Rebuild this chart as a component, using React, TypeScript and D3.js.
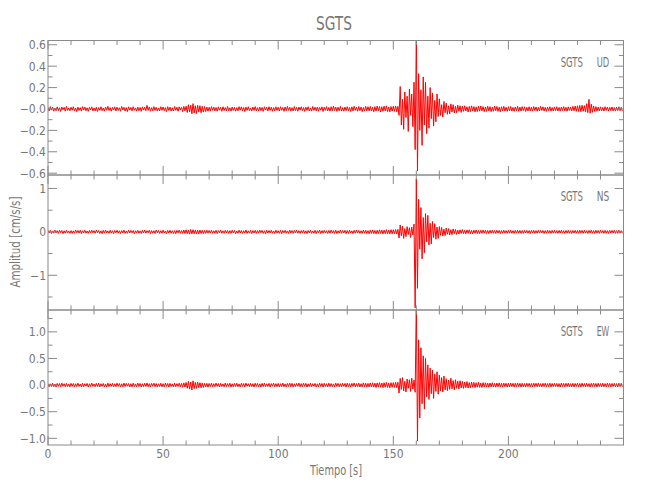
import React from "react";
import * as d3 from "d3";

// ---------- data ----------
const TITLE = "SGTS";
const STATION = "SGTS";
const X_LABEL = "Tiempo  [s]";
const Y_LABEL = "Amplitud  [cm/s/s]";
const SAMPLE_DT = 0.5; // seconds between samples
const components = ["UD", "NS", "EW"];

const xDomain = [0, 250];
const xMajorTicks = [0, 50, 100, 150, 200];
const xMinorTicks = [10, 20, 30, 40, 60, 70, 80, 90, 110, 120, 130, 140, 160, 170, 180, 190, 210, 220, 230, 240, 250];
const xTickLabels = ["0", "50", "100", "150", "200"];

const udDomain = [-0.617, 0.64];
const udMajorTicks = [-0.6, -0.4, -0.2, 0, 0.2, 0.4, 0.6];
const udTickLabels = ["\u22120.6", "\u22120.4", "\u22120.2", "\u22120.0", "0.2", "0.4", "0.6"];
const udMinorTicks = [-0.5, -0.3, -0.1, 0.1, 0.3, 0.5];

const nsDomain = [-1.8, 1.31];
const nsMajorTicks = [-1, 0, 1];
const nsTickLabels = ["\u22121", "0", "1"];
const nsMinorTicks = [-1.5, -0.5, 0.5];

const ewDomain = [-1.125, 1.41];
const ewMajorTicks = [-1, -0.5, 0, 0.5, 1];
const ewTickLabels = ["\u22121.0", "\u22120.5", "0.0", "0.5", "1.0"];
const ewMinorTicks = [-0.75, -0.25, 0.25, 0.75, 1.25];

// acceleration samples, in units of 0.001 cm/s/s, every 0.5 s
const udData = [
  14,-19,22,-11,17,-21,9,-16,20,-15,12,-23,18,-8,15,-20,24,-13,10,-17,
  16,-12,21,-18,9,-24,17,-14,13,-20,22,-10,19,-16,11,-21,15,-9,20,-17,
  10,-18,17,-23,14,-13,21,-16,9,-20,18,-12,25,-15,13,-21,16,-10,20,-18,
  17,-14,11,-21,23,-9,16,-19,13,-24,20,-11,15,-17,21,-13,10,-20,18,-16,
  14,-22,20,-10,17,-16,34,-13,19,-21,12,-17,22,-14,16,-20,10,-18,21,-12,
  18,-16,13,-24,21,-14,17,-20,12,-19,23,-13,16,-21,20,-10,15,-25,24,-17,
  26,-33,40,-28,36,-45,50,-38,30,-42,34,-27,31,-35,25,-29,22,-24,18,-21,
  16,-20,22,-13,18,-17,14,-21,20,-12,17,-22,21,-15,13,-18,24,-16,11,-20,
  18,-14,16,-21,13,-17,22,-11,20,-18,14,-24,17,-13,21,-16,10,-20,18,-14,
  22,-17,12,-20,18,-16,14,-22,20,-10,17,-19,21,-13,16,-21,13,-17,20,-14,
  16,-19,21,-12,14,-22,18,-16,24,-13,17,-20,12,-18,22,-15,16,-21,18,-10,
  20,-16,13,-22,17,-14,21,-18,10,-20,23,-13,16,-17,18,-21,14,-12,20,-24,
  17,-13,22,-18,14,-20,21,-16,27,-14,18,-22,16,-17,24,-20,13,-21,18,-16,
  21,-17,14,-24,20,-18,25,-13,17,-21,23,-16,18,-25,14,-20,24,-17,21,-18,
  24,-19,18,-26,22,-20,27,-17,23,-28,21,-22,26,-18,29,-24,19,-27,23,-20,
  25,-22,28,-26,24,-60,210,-150,90,-190,160,-80,120,-210,185,-60,140,-165,250,-380,
  700,-580,330,-200,180,-340,300,-150,250,-230,120,-180,200,-90,150,-160,80,-120,140,-70,
  95,-60,40,-75,70,-35,55,-50,30,-45,48,-28,40,-38,25,-35,36,-22,30,-32,
  26,-22,30,-18,21,-28,24,-25,29,-19,23,-27,20,-24,26,-21,28,-17,22,-25,
  19,-23,26,-17,22,-25,18,-21,27,-16,23,-22,17,-26,21,-18,25,-20,16,-22,
  21,-17,23,-20,15,-22,19,-16,25,-21,17,-19,22,-15,20,-23,16,-18,21,-19,
  17,-20,22,-15,19,-21,16,-18,24,-14,20,-19,15,-22,18,-16,21,-20,14,-18,
  19,-16,21,-19,15,-20,18,-15,22,-18,16,-21,20,-14,19,-18,24,-16,27,-22,
  30,-24,33,-26,35,-22,31,-29,50,-34,90,-40,45,-32,29,-24,22,-20,18,-19,
  20,-16,15,-19,21,-14,18,-20,16,-15,19,-18,14,-20,18,-15,20,-16,15,-19,
];

const nsData = [
  32,-27,36,-38,22,-30,40,-24,28,-35,37,-20,31,-41,25,-32,35,-28,21,-36,
  29,-37,24,-33,40,-22,32,-29,36,-40,26,-25,39,-31,19,-35,33,-26,38,-24,
  28,-32,39,-21,30,-36,24,-40,35,-28,41,-25,22,-33,37,-29,26,-39,32,-22,
  36,-30,25,-37,29,-26,40,-35,21,-32,39,-28,33,-24,31,-41,26,-29,36,-33,
  24,-36,35,-26,41,-32,28,-22,37,-39,29,-30,25,-35,40,-21,32,-37,28,-33,
  38,-29,22,-40,33,-28,37,-32,26,-36,30,-42,35,-25,41,-33,29,-37,44,-40,
  48,-42,40,-52,55,-46,50,-41,44,-49,38,-45,42,-37,36,-40,32,-35,38,-31,
  33,-28,37,-36,26,-32,35,-39,29,-24,40,-33,25,-31,36,-27,32,-37,28,-35,
  37,-25,31,-40,22,-33,39,-29,32,-36,26,-28,41,-35,24,-32,33,-39,29,-27,
  35,-37,28,-31,40,-22,32,-35,25,-41,36,-29,31,-26,37,-33,21,-36,39,-28,
  26,-33,36,-40,31,-25,35,-32,23,-37,41,-28,29,-35,33,-24,39,-31,28,-36,
  32,-29,40,-35,25,-39,31,-26,37,-33,22,-32,35,-40,28,-25,39,-36,29,-31,
  36,-28,26,-37,33,-32,41,-24,29,-35,37,-39,25,-31,40,-33,32,-26,35,-41,
  31,-36,39,-29,24,-40,35,-32,43,-28,33,-37,26,-35,41,-31,36,-39,29,-43,
  40,-35,44,-39,32,-45,37,-42,47,-36,43,-48,39,-40,50,-43,41,-47,51,-44,
  48,-43,53,-50,57,-140,160,-90,130,-150,75,-110,120,-60,95,-130,110,-70,180,-1750,
  1220,-1300,750,-400,560,-620,330,-480,420,-230,380,-300,200,-280,240,-130,190,-170,110,-150,
  120,-80,100,-95,60,-85,90,-55,75,-70,50,-65,68,-42,55,-58,40,-50,48,-36,
  52,-40,38,-47,44,-35,48,-42,35,-44,40,-33,43,-38,31,-41,37,-35,42,-30,
  38,-36,33,-40,35,-31,39,-34,30,-37,36,-29,34,-38,31,-33,37,-30,28,-35,
  35,-31,38,-33,29,-36,34,-30,37,-28,32,-35,30,-34,36,-27,33,-32,29,-37,
  33,-29,36,-34,28,-32,37,-30,34,-27,31,-36,29,-33,38,-28,30,-35,33,-29,
  36,-32,29,-35,33,-28,37,-31,27,-36,32,-29,35,-33,28,-37,31,-27,36,-32,
  29,-35,38,-28,32,-33,36,-30,28,-37,33,-29,39,-32,30,-36,35,-28,32,-34,
  37,-29,31,-35,33,-32,28,-36,35,-30,32,-27,36,-34,29,-35,38,-31,28,-33,
];

const ewData = [
  28,-32,24,-26,35,-30,21,-36,31,-25,29,-33,37,-22,26,-31,32,-27,22,-35,
  33,-24,30,-37,25,-28,36,-26,20,-32,35,-30,27,-21,31,-36,24,-28,38,-25,
  22,-31,32,-27,37,-35,26,-23,30,-34,21,-37,36,-29,27,-26,33,-32,25,-30,
  36,-25,29,-35,23,-31,38,-27,32,-22,30,-36,26,-33,35,-29,22,-32,37,-26,
  31,-36,25,-29,34,-27,39,-31,26,-35,32,-23,36,-30,29,-37,24,-27,35,-32,
  26,-33,37,-25,30,-36,32,-29,23,-35,38,-31,27,-26,36,-34,31,-40,42,-37,
  50,-60,68,-75,58,-92,80,-66,52,-61,57,-48,45,-50,40,-44,36,-35,33,-38,
  31,-28,36,-33,26,-31,37,-25,30,-35,33,-27,23,-32,38,-30,28,-26,35,-36,
  25,-33,31,-27,36,-30,22,-37,32,-26,29,-35,37,-23,27,-31,33,-28,26,-36,
  35,-26,30,-32,23,-37,33,-28,38,-31,25,-27,32,-35,28,-22,36,-33,27,-30,
  31,-36,26,-28,37,-32,22,-35,30,-26,36,-31,33,-37,25,-27,32,-23,38,-33,
  28,-31,35,-26,32,-36,24,-30,37,-33,27,-25,31,-35,23,-32,36,-28,30,-37,
  33,-27,26,-35,36,-30,28,-32,22,-36,37,-26,32,-31,27,-33,35,-25,30,-38,
  36,-32,28,-37,33,-26,40,-35,31,-28,37,-36,26,-33,41,-30,35,-38,32,-36,
  40,-35,44,-38,36,-45,41,-37,46,-40,38,-47,45,-41,49,-44,40,-50,46,-42,
  47,-44,51,-49,55,-150,125,-80,140,-110,70,-130,115,-60,100,-120,130,-75,95,-135,
  1600,-1050,850,-620,700,-350,550,-450,500,-220,380,-270,320,-160,280,-250,210,-120,250,-170,
  190,-110,140,-130,170,-90,120,-105,95,-80,130,-70,85,-88,100,-60,75,-72,82,-55,
  70,-62,58,-50,66,-55,48,-52,57,-42,50,-47,45,-40,52,-43,38,-45,46,-36,
  42,-38,36,-41,39,-33,44,-37,35,-40,38,-32,41,-36,33,-39,37,-31,34,-38,
  36,-34,39,-30,33,-37,35,-31,38,-29,32,-36,34,-33,30,-37,35,-28,33,-35,
  31,-35,36,-29,34,-32,37,-30,28,-36,33,-27,35,-34,29,-31,36,-33,30,-28,
  35,-29,32,-34,28,-36,37,-30,31,-33,34,-28,36,-35,27,-32,33,-34,30,-27,
  34,-32,29,-35,36,-28,31,-34,35,-30,28,-36,33,-29,37,-31,30,-35,34,-28,
  29,-34,35,-31,27,-33,36,-29,31,-35,30,-28,34,-32,29,-36,35,-30,32,-31,
];

// ---------- layout ----------
const W = 650;
const H = 500;
const LEFT = 48;
const RIGHT = 623.5;
const PANEL_EDGES = [40.5, 175, 310, 445];
const MAJOR_LEN = 9;
const MINOR_LEN = 4.5;
const AXIS_COLOR = "#8a8a8a";
const TEXT_COLOR = "#777777";
const TRACE_COLOR = "#ff0000";
const FONT = "'Liberation Sans Narrow', 'DejaVu Sans Condensed', 'Arial Narrow', sans-serif";

const panels = [
  { comp: components[0], data: udData, domain: udDomain, major: udMajorTicks, labels: udTickLabels, minor: udMinorTicks },
  { comp: components[1], data: nsData, domain: nsDomain, major: nsMajorTicks, labels: nsTickLabels, minor: nsMinorTicks },
  { comp: components[2], data: ewData, domain: ewDomain, major: ewMajorTicks, labels: ewTickLabels, minor: ewMinorTicks },
];

export default function App() {
  const x = d3.scaleLinear().domain(xDomain).range([LEFT, RIGHT]);

  return (
    <svg
      width={W}
      height={H}
      style={{ position: "absolute", left: 0, top: 0, background: "#fff" }}
      fontFamily={FONT}
    >
      <defs>
        {panels.map((p, i) => (
          <clipPath id={`clip${i}`} key={i}>
            <rect x={LEFT} y={PANEL_EDGES[i]} width={RIGHT - LEFT} height={PANEL_EDGES[i + 1] - PANEL_EDGES[i]} />
          </clipPath>
        ))}
      </defs>

      <text x={334} y={30} textAnchor="middle" fontSize={20} fill={TEXT_COLOR} textLength={36} lengthAdjust="spacingAndGlyphs">
        {TITLE}
      </text>

      {panels.map((p, i) => {
        const top = PANEL_EDGES[i];
        const bottom = PANEL_EDGES[i + 1];
        const y = d3.scaleLinear().domain(p.domain).range([bottom, top]);
        const line = d3
          .line<number>()
          .x((_, k) => x(k * SAMPLE_DT))
          .y((d) => y(d / 1000));
        const isLast = i === panels.length - 1;
        return (
          <g key={p.comp}>
            <path d={line(p.data) || ""} fill="none" stroke={TRACE_COLOR} strokeWidth={1} strokeLinejoin="round" clipPath={`url(#clip${i})`} />
            <rect x={LEFT} y={top} width={RIGHT - LEFT} height={bottom - top} fill="none" stroke={AXIS_COLOR} strokeWidth={1} />
            {xMajorTicks.map((t) => (
              <g key={`xM${t}`}>
                <line x1={x(t)} x2={x(t)} y1={bottom} y2={bottom - MAJOR_LEN} stroke={AXIS_COLOR} />
                <line x1={x(t)} x2={x(t)} y1={top} y2={top + MAJOR_LEN} stroke={AXIS_COLOR} />
              </g>
            ))}
            {xMinorTicks.map((t) => (
              <g key={`xm${t}`}>
                <line x1={x(t)} x2={x(t)} y1={bottom} y2={bottom - MINOR_LEN} stroke={AXIS_COLOR} />
                <line x1={x(t)} x2={x(t)} y1={top} y2={top + MINOR_LEN} stroke={AXIS_COLOR} />
              </g>
            ))}
            {p.major.map((v, k) => (
              <g key={`yM${k}`}>
                <line x1={LEFT} x2={LEFT + MAJOR_LEN} y1={y(v)} y2={y(v)} stroke={AXIS_COLOR} />
                <line x1={RIGHT} x2={RIGHT - MAJOR_LEN} y1={y(v)} y2={y(v)} stroke={AXIS_COLOR} />
                <text x={LEFT - 2} y={y(v)} dy="0.36em" textAnchor="end" fontSize={12} fill={TEXT_COLOR}>
                  {p.labels[k]}
                </text>
              </g>
            ))}
            {p.minor.map((v, k) => (
              <g key={`ym${k}`}>
                <line x1={LEFT} x2={LEFT + MINOR_LEN} y1={y(v)} y2={y(v)} stroke={AXIS_COLOR} />
                <line x1={RIGHT} x2={RIGHT - MINOR_LEN} y1={y(v)} y2={y(v)} stroke={AXIS_COLOR} />
              </g>
            ))}
            <text x={560.7} y={top + 26} fontSize={14} fill={TEXT_COLOR} textLength={22.3} lengthAdjust="spacingAndGlyphs">
              {STATION}
            </text>
            <text x={596.7} y={top + 26} fontSize={14} fill={TEXT_COLOR} textLength={12.5} lengthAdjust="spacingAndGlyphs">
              {p.comp}
            </text>
            {isLast &&
              xMajorTicks.map((t, k) => (
                <text key={`xl${t}`} x={x(t)} y={bottom + 13} textAnchor="middle" fontSize={12} fill={TEXT_COLOR}>
                  {xTickLabels[k]}
                </text>
              ))}
          </g>
        );
      })}

      <text x={336} y={475} textAnchor="middle" fontSize={14.5} fill={TEXT_COLOR} textLength={52} lengthAdjust="spacingAndGlyphs">
        {X_LABEL}
      </text>
      <text transform={`translate(20,242) rotate(-90)`} textAnchor="middle" fontSize={14} fill={TEXT_COLOR} textLength={91} lengthAdjust="spacingAndGlyphs">
        {Y_LABEL}
      </text>
    </svg>
  );
}
